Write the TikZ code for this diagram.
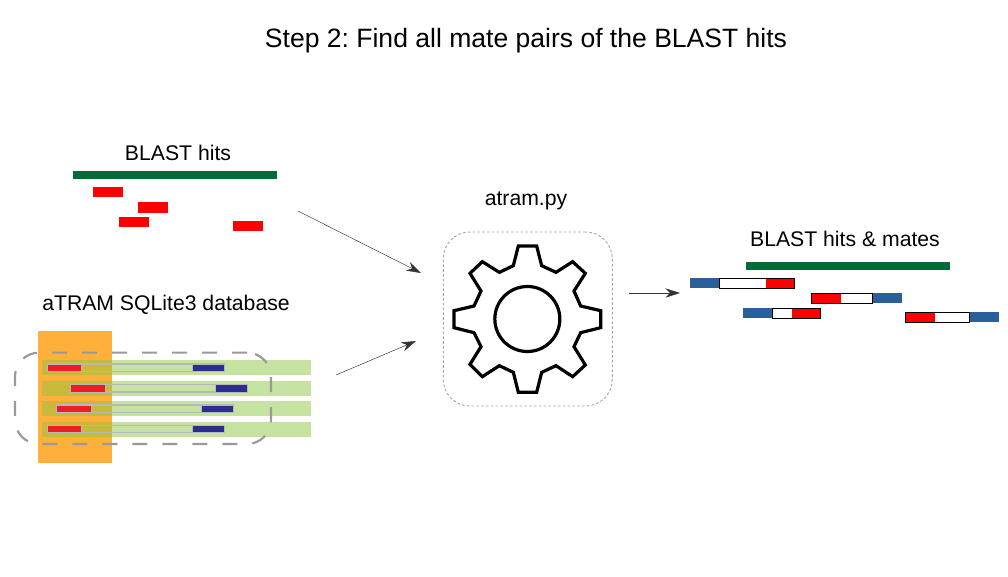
\documentclass[tikz,border=0pt]{standalone}
\usepackage{fontspec}
\setmainfont{Liberation Sans}
\usepackage{xcolor}
\usetikzlibrary{positioning,arrows.meta}
\frenchspacing

\definecolor{hitgreen}{HTML}{076937}
\definecolor{hitred}{HTML}{FF0000}
\definecolor{mateblue}{HTML}{2A6099}
\definecolor{dborange}{HTML}{FFB03B}
\definecolor{dbgreen}{HTML}{C6E2A0}
\definecolor{dbolive}{HTML}{C8B93C}
\definecolor{readred}{HTML}{EE1C25}
\definecolor{readblue}{HTML}{2B2E8C}
\definecolor{readgrey}{HTML}{B8B8B8}

\tikzset{
  bar/.style={rectangle, inner sep=0pt, outer sep=0pt},
  refbar/.style={bar, fill=hitgreen, minimum width=153pt, minimum height=6pt},
  hitbar/.style={bar, fill=hitred, minimum width=22pt, minimum height=8pt},
  mateblue end/.style={bar, fill=mateblue, minimum width=22pt, minimum height=7.5pt},
  matered end/.style={bar, fill=hitred, minimum width=22pt, minimum height=7.5pt},
  matewhite/.style={bar, fill=white, minimum height=7.5pt},
  mateline/.style={draw=black, line width=.6pt},
  dbrow/.style={bar, fill=dbgreen, minimum width=202pt, minimum height=11.25pt},
  dbover/.style={bar, fill=dbolive, minimum width=52.5pt, minimum height=11.25pt},
  read/.style={bar, draw=readgrey, line width=1pt, minimum width=132.5pt, minimum height=5.5pt},
  readl/.style={bar, fill=readred, draw=readgrey, line width=.5pt, minimum width=26pt, minimum height=5.5pt},
  readr/.style={bar, fill=readblue, draw=readgrey, line width=.5pt, minimum width=24pt, minimum height=5.5pt},
  label/.style={font=\fontsize{15.9pt}{18pt}\selectfont},
  flow/.style={-{Stealth[length=11pt,width=7pt]}, draw=black!80, line width=.35pt},
}

\begin{document}
\begin{tikzpicture}[x=.75pt, y=-.75pt]

  \useasboundingbox (0, 0) rectangle (1008, 576);

  \node (title) at (526, 41) {\fontsize{19.9pt}{24pt}\selectfont Step 2: Find all mate pairs of the BLAST hits};

  % hits
  \node [label] (hitslabel) at (178, 153) {BLAST hits};
  \node [refbar] (ref) at (175, 174.5) {};
  \node [hitbar] (hita) at (108, 192) {};
  \node [hitbar] (hitb) at (153, 207.5) {};
  \node [hitbar] (hitc) at (134, 222) {};
  \node [hitbar] (hitd) at (248, 226) {};

  % database
  \node [label] (dblabel) at (166, 305) {aTRAM SQLite3 database};
  \node [bar, fill=dborange, minimum width=55.5pt, minimum height=99pt] (dbcol) at (75, 397) {};

  \node [dbrow] (rowa) at (176.2, 367.5) {};
  \node [dbrow] (rowb) at (176.2, 388.5) {};
  \node [dbrow] (rowc) at (176.2, 408.5) {};
  \node [dbrow] (rowd) at (176.2, 429) {};
  \node [dbover] (overa) at (76.5, 367.5) {};
  \node [dbover] (overb) at (76.5, 388.5) {};
  \node [dbover] (overc) at (76.5, 408.5) {};
  \node [dbover] (overd) at (76.5, 429) {};

  \node [read] (reada) at (135.7, 367.7) {};
  \node [read] (readb) at (159.2, 388.3) {};
  \node [read] (readc) at (145.3, 408.7) {};
  \node [read] (readd) at (135.7, 429) {};
  \node [readl] (reada l) at (64.3, 367.7) {};
  \node [readl] (readb l) at (87.7, 388.3) {};
  \node [readl] (readc l) at (73.7, 408.7) {};
  \node [readl] (readd l) at (64.3, 429) {};
  \node [readr] (reada r) at (208.3, 367.7) {};
  \node [readr] (readb r) at (231.8, 388.3) {};
  \node [readr] (readc r) at (217.8, 408.7) {};
  \node [readr] (readd r) at (208.3, 429) {};

  \node [bar, draw=black!40, line width=1.6pt, dash pattern=on 11.25pt off 11.25pt, rounded corners=18pt,
    minimum width=192pt, minimum height=68.5pt] (dbbox) at (143, 398.3) {};

  % gear
  \node [label] (atramlabel) at (526, 201) {atram.py};
  \node [bar, draw=black!35, line width=.7pt, dash pattern=on 2pt off 1.6pt, rounded corners=20pt,
    minimum width=126.75pt, minimum height=130.5pt] (atrambox) at (527.8, 319) {};

  \begin{scope}[shift={(430, 220)}, x=.25pt, y=-.25pt, line width=2.4pt, line join=miter]
    \draw (265,78) -- (320,78) -- (335,137) -- (378,157) -- (428,125) -- (466,160) -- (432,213) -- (452,258)
      -- (512,272) -- (512,323) -- (452,338) -- (432,380) -- (466,435) -- (428,470) -- (378,437) -- (335,457)
      -- (320,517) -- (265,517) -- (250,457) -- (208,437) -- (157,470) -- (120,433) -- (153,380) -- (132,338)
      -- (72,323) -- (72,272) -- (132,258) -- (153,213) -- (120,160) -- (157,125) -- (208,157) -- (250,137) -- cycle;
    \draw (292,297) circle (97.5);
  \end{scope}

  % hits and mates
  \node [label] (mateslabel) at (845, 239) {BLAST hits \& mates};
  \node [refbar] (refb) at (848, 265.8) {};

  \node [mateblue end] (matea b) at (704.7, 283) {};
  \node [matewhite, minimum width=35pt, right=0pt of matea b] (matea w) {};
  \node [matered end, minimum width=21pt, right=0pt of matea w] (matea r) {};
  \draw [mateline] (matea w.north west) rectangle (matea r.south east);

  \node [matered end] (mateb r) at (826.2, 298.3) {};
  \node [matewhite, minimum width=23.5pt, right=0pt of mateb r] (mateb w) {};
  \node [mateblue end, right=0pt of mateb w] (mateb b) {};
  \draw [mateline] (mateb r.north west) rectangle (mateb w.south east);

  \node [mateblue end] (matec b) at (757.8, 313.3) {};
  \node [matewhite, minimum width=15pt, right=0pt of matec b] (matec w) {};
  \node [matered end, minimum width=21.3pt, right=0pt of matec w] (matec r) {};
  \draw [mateline] (matec w.north west) rectangle (matec r.south east);

  \node [matered end] (mated r) at (920.3, 317.3) {};
  \node [matewhite, minimum width=26pt, right=0pt of mated r] (mated w) {};
  \node [mateblue end, right=0pt of mated w] (mated b) {};
  \draw [mateline] (mated r.north west) rectangle (mated w.south east);

  % arrows
  \coordinate (hitsout) at (298, 211);
  \coordinate (atramtop) at (421, 273);
  \coordinate (dbout) at (336, 375);
  \coordinate (atrambot) at (416, 341);
  \coordinate (atramout) at (629, 293);
  \coordinate (matesin) at (680, 293);

  \draw [flow] (hitsout) to (atramtop);
  \draw [flow] (dbout) to (atrambot);
  \draw [flow] (atramout) to (matesin);

\end{tikzpicture}
\end{document}
